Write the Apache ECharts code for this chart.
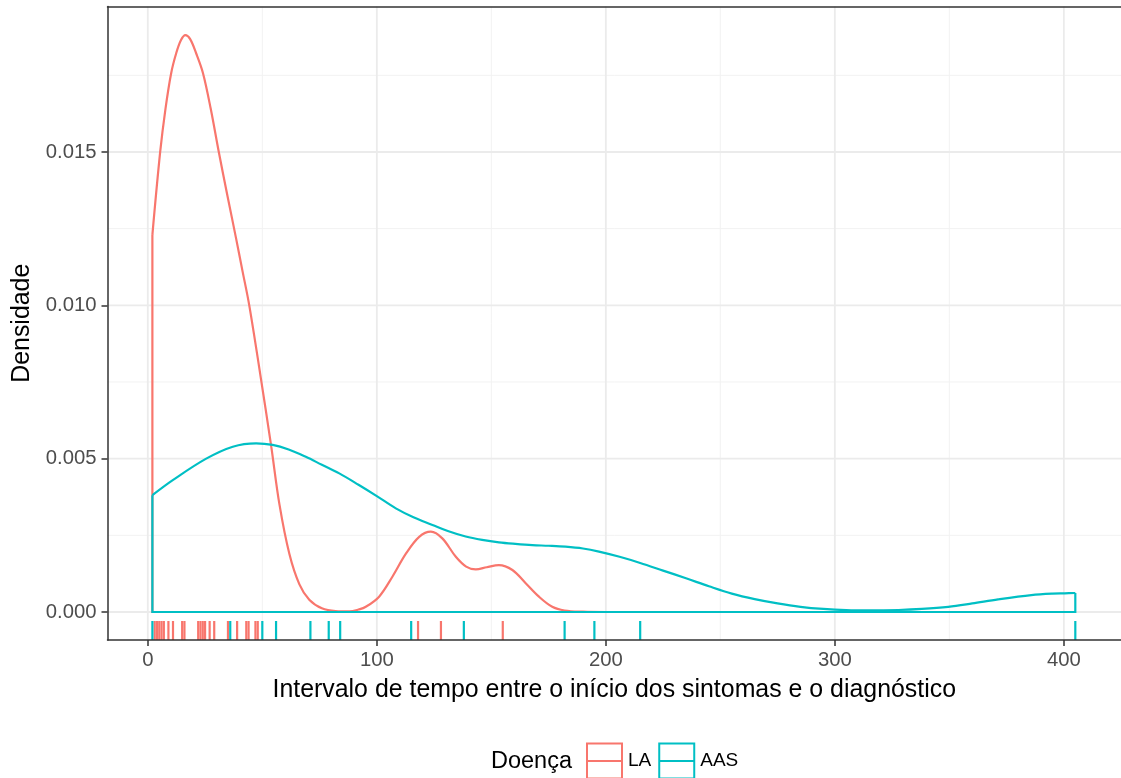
<!DOCTYPE html>
<html>
<head>
<meta charset="utf-8">
<script src="https://cdn.jsdelivr.net/npm/echarts@6/dist/echarts.min.js"></script>
<style>
  html, body { margin: 0; padding: 0; background: #ffffff; }
  #chart { width: 1121px; height: 778px; }
</style>
</head>
<body>
<div id="chart"></div>
<script>
// Axis breaks and grid lines
const xTicks = [0, 100, 200, 300, 400];
const xMinor = [50, 150, 250, 350];
const yTicks = [0, 0.005, 0.010, 0.015];
const yMinor = [0.0025, 0.0075, 0.0125, 0.0175];
const yTickLabels = ['0.000', '0.005', '0.010', '0.015'];

// Kernel density estimates, [interval, density]
const laDensity = [
  [2, 0.0123], [5.4, 0.0150], [7.7, 0.0164], [10.2, 0.01757],
  [12.4, 0.01822], [14.5, 0.01865], [16.4, 0.01881], [18.5, 0.01868], [21.1, 0.01822],
  [24.1, 0.01757], [27.5, 0.0164], [31, 0.0150], [34.7, 0.0136], [38.5, 0.0122],
  [41.4, 0.0111], [44.3, 0.0100], [49, 0.0078], [53.8, 0.00545], [57.5, 0.0035],
  [61.8, 0.0019], [66.2, 0.0009], [70.5, 0.0004], [76, 0.00012], [82, 0.00003],
  [88, 0.00002], [92, 0.00008], [95.2, 0.00017], [101, 0.0005], [106.8, 0.00115],
  [112.7, 0.0019], [118.5, 0.00245], [123.6, 0.00262], [128.6, 0.0024], [134.5, 0.0018],
  [139, 0.00148], [143.2, 0.00139], [148, 0.00146], [153.3, 0.00153], [159.2, 0.00137],
  [165, 0.00094], [170.8, 0.0005], [176.6, 0.00017], [182, 0.00005], [190, 0.00001],
  [200, 0], [405, 0]
];
const aasDensity = [
  [2, 0.00381], [10.9, 0.0043], [25.5, 0.0050], [37.1, 0.00539], [47.3, 0.0055],
  [54.5, 0.00545], [61.5, 0.0053], [69, 0.00506], [76, 0.0048], [83.6, 0.00452],
  [92, 0.00415], [100, 0.00378], [108.3, 0.00338], [116, 0.00309], [124.3, 0.00284],
  [131, 0.00264], [138.8, 0.00246], [146, 0.00235], [153.3, 0.00227], [160.5, 0.00222],
  [167.9, 0.00218], [175, 0.00216], [182.4, 0.00213], [190, 0.00207], [197, 0.00197],
  [206, 0.0018], [215, 0.0016], [225, 0.00135], [235, 0.0011], [245, 0.00084],
  [255, 0.0006], [265, 0.00042], [275, 0.00028], [285, 0.00017], [295, 0.0001],
  [305, 0.00006], [315, 0.00005], [327.8, 0.000065], [338, 0.0001], [349.5, 0.00017],
  [360, 0.00028], [371.3, 0.00041], [385.8, 0.00055], [395, 0.0006], [400.4, 0.00061],
  [405, 0.00062]
];

// Individual observations (rug)
const laRug = [3, 4, 5, 6, 7, 9, 11, 15, 16, 22, 23, 24, 25, 27, 29, 35, 39, 43, 44, 47, 48, 118, 128, 155];
const aasRug = [2, 36, 50, 56, 71, 79, 84, 115, 138, 182, 195, 215, 405];

const groups = ['LA', 'AAS'];
const groupColors = ['#F8766D', '#00BFC4'];

const X_MIN = -17.6, X_MAX = 424.95;
const Y_MIN = -0.000913, Y_MAX = 0.019744;
const FONT = 'Liberation Sans, Arial, Helvetica, sans-serif';

// Legend key: outlined square with a horizontal stroke through the middle
const KEY_ICON = 'path://M0 0H37V37H0Z M2 2V35H35V2Z M2 17.5H35V19.5H2Z';

function gridLines(values, vertical, color, width) {
  return {
    type: 'custom', silent: true, z: 1, animation: false,
    data: values.map(v => [v, v]),
    renderItem(params, api) {
      const cs = params.coordSys;
      const v = api.value(0);
      if (vertical) {
        const px = api.coord([v, 0])[0];
        return { type: 'line', shape: { x1: px, y1: cs.y, x2: px, y2: cs.y + cs.height },
                 style: { stroke: color, lineWidth: width } };
      }
      const py = api.coord([0, v])[1];
      return { type: 'line', shape: { x1: cs.x, y1: py, x2: cs.x + cs.width, y2: py },
               style: { stroke: color, lineWidth: width } };
    }
  };
}

function densityCurve(name, pts, color) {
  return {
    name, type: 'line', data: pts, smooth: 0.35, symbol: 'none', z: 3,
    lineStyle: { color, width: 2.2 }, itemStyle: { color }, animation: false
  };
}

// Closing edges of the density outline: left edge, baseline, right edge
function densityOutline(name, pts, color) {
  const first = pts[0], last = pts[pts.length - 1];
  return {
    name, type: 'line', smooth: false, symbol: 'none', z: 3, animation: false,
    data: [[first[0], first[1]], [first[0], 0], [last[0], 0], [last[0], last[1]]],
    lineStyle: { color, width: 2.2, join: 'miter' }, itemStyle: { color }
  };
}

function rug(name, values, color) {
  return {
    name, type: 'custom', z: 3, animation: false,
    itemStyle: { color },
    data: values.map(v => [v, Y_MIN]),
    renderItem(params, api) {
      const cs = params.coordSys;
      const p = api.coord([api.value(0), Y_MIN]);
      const len = cs.height * 0.03;
      return { type: 'line', shape: { x1: p[0], y1: p[1], x2: p[0], y2: p[1] - len },
               style: { stroke: color, lineWidth: 2.2 } };
    }
  };
}

const chart = echarts.init(document.getElementById('chart'), null, { renderer: 'canvas' });

const hiddenAxisBits = { axisTick: { show: false }, axisLabel: { show: false }, splitLine: { show: false } };

chart.setOption({
  backgroundColor: '#ffffff',
  animation: false,
  textStyle: { fontFamily: FONT },
  title: {
    text: 'Doença', left: 491, top: 750, padding: 0,
    textStyle: { fontFamily: FONT, fontSize: 23.5, fontWeight: 'normal', color: '#000000' }
  },
  legend: {
    left: 586, top: 742.5, padding: 0, orient: 'horizontal',
    itemWidth: 37, itemHeight: 37, itemGap: 7, selectedMode: false,
    textStyle: { fontFamily: FONT, fontSize: 19, color: '#000000' },
    data: groups.map((g, i) => ({ name: g, icon: KEY_ICON, itemStyle: { color: groupColors[i], borderWidth: 0 } }))
  },
  grid: { left: 107.5, right: -1.5, top: 6.5, bottom: 138, containLabel: false },
  xAxis: [
    {
      type: 'value', min: X_MIN, max: X_MAX, position: 'bottom', z: 5,
      name: 'Intervalo de tempo entre o início dos sintomas e o diagnóstico',
      nameLocation: 'middle', nameGap: 38,
      nameTextStyle: { fontFamily: FONT, fontSize: 24.9, color: '#000000' },
      axisLine: { show: true, onZero: false, lineStyle: { color: '#333333', width: 1.5 } },
      axisTick: { show: true, customValues: xTicks, length: 6, lineStyle: { color: '#333333', width: 1.5 } },
      axisLabel: { show: true, customValues: xTicks, margin: 10, fontFamily: FONT, fontSize: 20.3, color: '#4d4d4d' },
      splitLine: { show: false }
    },
    Object.assign({ type: 'value', min: X_MIN, max: X_MAX, position: 'top', z: 5,
      axisLine: { show: true, onZero: false, lineStyle: { color: '#333333', width: 1.5 } } }, hiddenAxisBits)
  ],
  yAxis: [
    {
      type: 'value', min: Y_MIN, max: Y_MAX, position: 'left', z: 5,
      name: 'Densidade', nameLocation: 'middle', nameGap: 68, nameRotate: 90,
      nameTextStyle: { fontFamily: FONT, fontSize: 24.9, color: '#000000' },
      axisLine: { show: true, onZero: false, lineStyle: { color: '#333333', width: 1.5 } },
      axisTick: { show: true, customValues: yTicks, length: 6, lineStyle: { color: '#333333', width: 1.5 } },
      axisLabel: {
        show: true, customValues: yTicks, margin: 11, fontFamily: FONT, fontSize: 20.3, color: '#4d4d4d',
        formatter: v => yTickLabels[yTicks.findIndex(t => Math.abs(t - v) < 1e-9)] ?? ''
      },
      splitLine: { show: false }
    }
  ],
  series: [
    gridLines(xMinor, true, '#f2f2f2', 1),
    gridLines(yMinor, false, '#f2f2f2', 1),
    gridLines(xTicks, true, '#ebebeb', 1.8),
    gridLines(yTicks, false, '#ebebeb', 1.8),
    densityCurve('LA', laDensity, groupColors[0]),
    densityOutline('LA', laDensity, groupColors[0]),
    densityCurve('AAS', aasDensity, groupColors[1]),
    densityOutline('AAS', aasDensity, groupColors[1]),
    rug('LA', laRug, groupColors[0]),
    rug('AAS', aasRug, groupColors[1])
  ]
});
</script>
</body>
</html>
